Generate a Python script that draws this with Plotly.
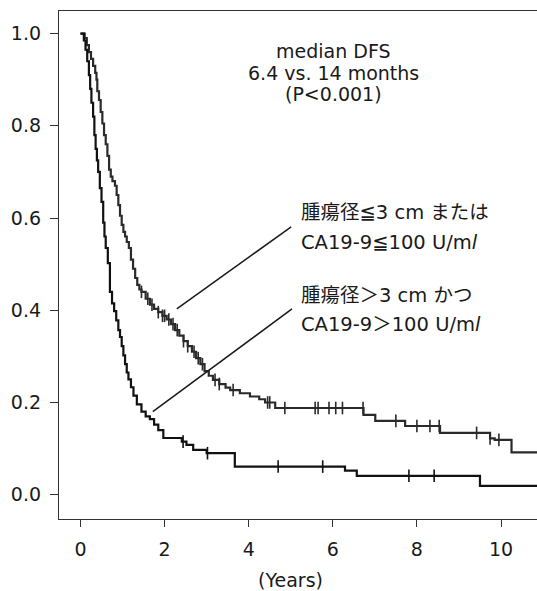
import plotly.graph_objects as go
import numpy as np

# ---- Data ----
# Group: tumour diameter <=3 cm or CA19-9 <=100 U/ml (upper curve)
good_t = [0.00, 0.10, 0.15, 0.20, 0.25, 0.30, 0.35, 0.38, 0.40, 0.44, 0.48, 0.52, 0.56,
          0.60, 0.64, 0.68, 0.72, 0.76, 0.82, 0.86, 0.90, 0.94, 0.98, 1.02, 1.06, 1.10,
          1.15, 1.20, 1.25, 1.30, 1.35, 1.40, 1.45, 1.55, 1.65, 1.75, 1.85, 1.95, 2.05,
          2.15, 2.25, 2.35, 2.45, 2.55, 2.65, 2.75, 2.85, 2.95, 3.05, 3.15, 3.30, 3.45,
          3.56, 3.79, 4.03, 4.25, 4.39, 4.63, 6.73, 7.01, 7.72, 8.55, 9.74, 9.85, 10.25, 10.86]
good_s = [1.000, 0.990, 0.975, 0.960, 0.945, 0.930, 0.915, 0.900, 0.875, 0.856, 0.830, 0.805, 0.780,
          0.760, 0.735, 0.705, 0.690, 0.680, 0.670, 0.650, 0.628, 0.605, 0.585, 0.570, 0.560, 0.548,
          0.535, 0.510, 0.490, 0.470, 0.455, 0.445, 0.440, 0.425, 0.412, 0.403, 0.396, 0.388, 0.380,
          0.370, 0.357, 0.345, 0.333, 0.322, 0.310, 0.296, 0.283, 0.268, 0.258, 0.249, 0.240, 0.232,
          0.227, 0.220, 0.213, 0.207, 0.200, 0.188, 0.173, 0.160, 0.149, 0.134, 0.122, 0.119, 0.092, 0.092]
good_cens = [1.45, 1.60, 1.70, 1.85, 1.95, 2.00, 2.10, 2.20, 2.30, 2.45, 2.55, 2.70, 2.80, 2.90,
             3.20, 3.30, 3.63, 4.45, 4.50, 4.86, 5.58, 5.65, 5.91, 6.07, 6.23, 6.72, 7.50,
             8.00, 8.31, 8.53, 9.42, 9.74, 9.95]

# Group: tumour diameter >3 cm and CA19-9 >100 U/ml (lower curve)
bad_t = [0.00, 0.08, 0.12, 0.16, 0.20, 0.23, 0.26, 0.30, 0.33, 0.36, 0.39, 0.42, 0.46, 0.50,
         0.54, 0.57, 0.60, 0.65, 0.70, 0.75, 0.80, 0.85, 0.90, 0.94, 0.98, 1.02, 1.06, 1.10,
         1.14, 1.20, 1.26, 1.34, 1.45, 1.55, 1.65, 1.75, 1.85, 1.97, 2.41, 2.52, 2.68, 3.00,
         3.67, 6.29, 6.57, 9.50, 10.86]
bad_s = [1.000, 0.985, 0.965, 0.940, 0.910, 0.880, 0.850, 0.820, 0.780, 0.750, 0.725, 0.700, 0.665, 0.635,
         0.590, 0.560, 0.535, 0.502, 0.440, 0.415, 0.398, 0.378, 0.357, 0.342, 0.322, 0.302, 0.283, 0.265,
         0.250, 0.233, 0.215, 0.196, 0.180, 0.170, 0.164, 0.152, 0.140, 0.123, 0.115, 0.108, 0.097, 0.090,
         0.061, 0.052, 0.041, 0.019, 0.019]
bad_cens = [2.44, 3.02, 4.70, 5.76, 7.81, 8.41]

x_ticks = [0, 2, 4, 6, 8, 10]
y_ticks = [0.0, 0.2, 0.4, 0.6, 0.8, 1.0]
y_tick_labels = ["0.0", "0.2", "0.4", "0.6", "0.8", "1.0"]

label_good = ["腫瘍径≦3 cm または", "CA19-9≦100 U/m<i>l</i>"]
label_bad = ["腫瘍径＞3 cm かつ", "CA19-9＞100 U/m<i>l</i>"]
stat_text = ["median DFS", "6.4 vs. 14 months", "(P<0.001)"]


def step_value(ts, ss, t):
    idx = np.searchsorted(ts, t, side="right") - 1
    return ss[max(idx, 0)]


FONT = "DejaVu Sans, Noto Sans CJK JP, sans-serif"
INK = "#1a1a1a"

fig = go.Figure()
for ts, ss, cens, col in [(good_t, good_s, good_cens, "#2a2a2a"), (bad_t, bad_s, bad_cens, "#111111")]:
    fig.add_trace(go.Scatter(x=ts, y=ss, mode="lines", line=dict(shape="hv", color=col, width=2.2),
                             showlegend=False, hoverinfo="skip"))
    fig.add_trace(go.Scatter(x=cens, y=[step_value(ts, ss, c) for c in cens], mode="markers",
                             marker=dict(symbol="line-ns", size=9, line=dict(color=col, width=1.6)),
                             showlegend=False, hoverinfo="skip"))

# pointer lines
fig.add_trace(go.Scatter(x=[2.29, 5.01], y=[0.403, 0.581], mode="lines",
                         line=dict(color=INK, width=1.5), showlegend=False, hoverinfo="skip"))
fig.add_trace(go.Scatter(x=[1.72, 5.03], y=[0.180, 0.403], mode="lines",
                         line=dict(color=INK, width=1.5), showlegend=False, hoverinfo="skip"))

annots = []
for txt, yv in zip(label_good, [0.611, 0.548]):
    annots.append(dict(x=5.20, y=yv, text=txt, xanchor="left", yanchor="middle", showarrow=False,
                       font=dict(family=FONT, size=19.5, color=INK)))
for txt, yv in zip(label_bad, [0.432, 0.370]):
    annots.append(dict(x=5.20, y=yv, text=txt, xanchor="left", yanchor="middle", showarrow=False,
                       font=dict(family=FONT, size=19.5, color=INK)))
for txt, yv in zip(stat_text, [0.963, 0.915, 0.869]):
    annots.append(dict(x=6.02, y=yv, text=txt, xanchor="center", yanchor="middle", showarrow=False,
                       font=dict(family=FONT, size=19, color=INK)))
annots.append(dict(x=5.0, y=-0.120, xref="x", yref="paper", text="(Years)", xanchor="center",
                   yanchor="middle", showarrow=False, font=dict(family=FONT, size=19, color=INK)))

fig.update_layout(
    width=537, height=591,
    margin=dict(l=59, r=0, t=11, b=72),
    paper_bgcolor="white", plot_bgcolor="white",
    annotations=annots,
    xaxis=dict(range=[-0.511, 10.856], tickvals=x_ticks, ticks="outside", ticklen=7, tickwidth=1.3,
               tickcolor="#333", showline=True, linecolor="#333", linewidth=1.3, mirror=True,
               showgrid=False, zeroline=False, ticklabelstandoff=6,
               tickfont=dict(family=FONT, size=19, color=INK)),
    yaxis=dict(range=[-0.0527, 1.049], tickvals=y_ticks, ticktext=y_tick_labels, ticks="outside",
               ticklen=8, tickwidth=1.3, tickcolor="#333", showline=True, linecolor="#333",
               linewidth=1.3, showgrid=False, zeroline=False, ticklabelstandoff=5,
               tickfont=dict(family=FONT, size=19, color=INK)),
)

fig.write_html("out.html")
